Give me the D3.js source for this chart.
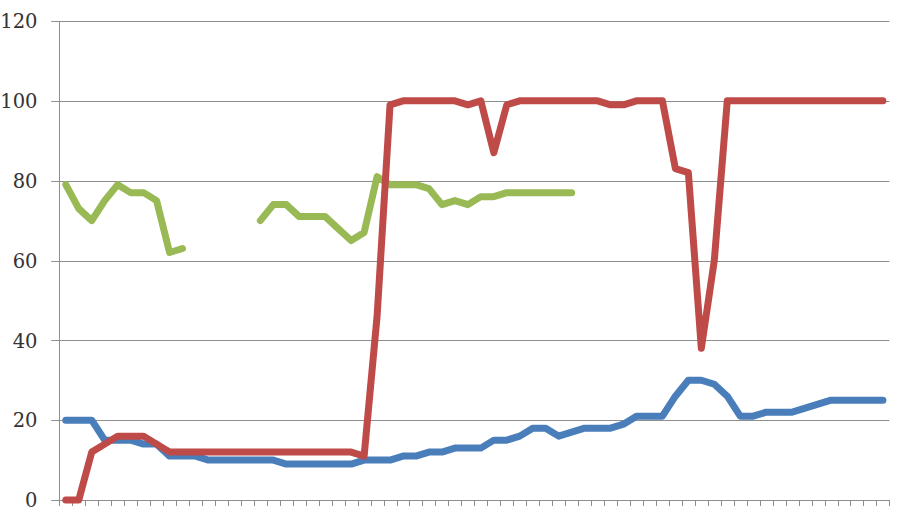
<!DOCTYPE html>
<html>
<head>
<meta charset="utf-8">
<script src="https://cdn.jsdelivr.net/npm/d3@7"></script>
<style>
  html, body { margin: 0; padding: 0; background: #fff; }
  svg { display: block; }
</style>
</head>
<body>
<svg id="chart" width="899" height="514"></svg>
<script>
// ---- data ----
const categories = d3.range(64);
const yTicks = [0, 20, 40, 60, 80, 100, 120];

const blueValues = [20,20,20,15,15,15,14,14,11,11,11,10,10,10,10,10,10,9,9,9,9,9,9,10,10,10,11,11,12,12,13,13,13,15,15,16,18,18,16,17,18,18,18,19,21,21,21,26,30,30,29,26,21,21,22,22,22,23,24,25,25,25,25,25];
const redValues = [0,0,12,14,16,16,16,14,12,12,12,12,12,12,12,12,12,12,12,12,12,12,12,11,46,99,100,100,100,100,100,99,100,87,99,100,100,100,100,100,100,100,99,99,100,100,100,83,82,38,60,100,100,100,100,100,100,100,100,100,100,100,100,100];
const greenValues = [79,73,70,75,79,77,77,75,62,63,null,null,null,null,null,70,74,74,71,71,71,68,65,67,81,79,79,79,78,74,75,74,76,76,77,77,77,77,77,77];

const series = [
  { name: "blue", color: "#4A7EBB", values: blueValues },
  { name: "green", color: "#98B954", values: greenValues },
  { name: "red", color: "#BE4B48", values: redValues }
];

// ---- layout ----
const svg = d3.select("#chart");
const mLeft = 59.3, mRight = 889.4, mTop = 21, mBottom = 500;

const x = d3.scaleBand().domain(categories).range([mLeft, mRight]).paddingInner(0).paddingOuter(0);
const y = d3.scaleLinear().domain([0, 120]).range([mBottom, mTop]);

const gridColor = "#8e8e8e";

// gridlines
svg.append("g")
  .selectAll("line")
  .data(yTicks)
  .join("line")
  .attr("x1", mLeft - 8)
  .attr("x2", mRight)
  .attr("y1", d => Math.round(y(d)) + 0.5)
  .attr("y2", d => Math.round(y(d)) + 0.5)
  .attr("stroke", gridColor)
  .attr("stroke-width", 1);

// y axis line
svg.append("line")
  .attr("x1", Math.round(mLeft) + 0.5).attr("x2", Math.round(mLeft) + 0.5)
  .attr("y1", mTop).attr("y2", mBottom)
  .attr("stroke", gridColor);

// y labels
svg.append("g")
  .selectAll("text")
  .data(yTicks)
  .join("text")
  .attr("x", 37.5)
  .attr("y", d => y(d))
  .attr("dy", "0.37em")
  .attr("text-anchor", "end")
  .attr("font-family", "'DejaVu Serif', serif")
  .attr("font-size", 19.5)
  .attr("fill", "#333")
  .text(d => d);

// x ticks at band boundaries
const boundaries = categories.map(c => x(c)).concat([mRight]);
svg.append("g")
  .selectAll("line")
  .data(boundaries)
  .join("line")
  .attr("x1", d => Math.round(d) + 0.5)
  .attr("x2", d => Math.round(d) + 0.5)
  .attr("y1", mBottom)
  .attr("y2", mBottom + 6)
  .attr("stroke", gridColor);

// lines
const line = d3.line()
  .defined(d => d.v !== null)
  .x(d => x(d.i) + x.bandwidth() / 2)
  .y(d => y(d.v));

svg.append("g")
  .selectAll("path")
  .data(series)
  .join("path")
  .attr("d", s => line(s.values.map((v, i) => ({ i, v }))))
  .attr("fill", "none")
  .attr("stroke", s => s.color)
  .attr("stroke-width", 7)
  .attr("stroke-linejoin", "round")
  .attr("stroke-linecap", "round");
</script>
</body>
</html>
